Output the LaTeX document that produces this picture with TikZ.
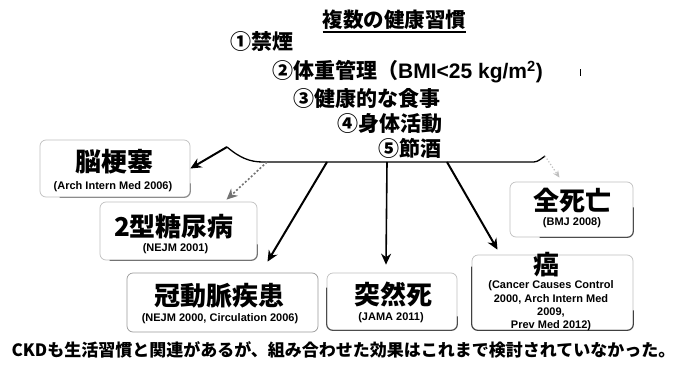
\documentclass[tikz,border=0pt]{standalone}
\usepackage{fontspec}
\setmainfont{Liberation Sans}
\newfontfamily\jp{Noto Sans CJK JP}
\usetikzlibrary{arrows.meta}
\begin{document}
\begin{tikzpicture}[x=1pt,y=-1pt,
  big/.style={font=\jp\bfseries\fontsize{26}{26}\selectfont, inner sep=0pt},
  item/.style={font=\jp\bfseries\fontsize{21}{21}\selectfont, inner sep=0pt, anchor=west},
  ref/.style={font=\bfseries\fontsize{11}{13.3}\selectfont, inner sep=0pt, align=center},
  fadebox/.style={draw=black!25, rounded corners=6pt, line width=0.7pt, inner sep=0pt},
  edge/.style={line width=1.1pt, rounded corners=6pt},
  arr/.style={-{Stealth[length=11pt,width=10pt]}, line width=2pt},
  bracket/.style={line width=1.3pt}
]
\useasboundingbox (0,0) rectangle (683,367);

% title and habits
\node[font=\jp\bfseries\fontsize{20.5}{20.5}\selectfont, inner sep=0pt] (title) at (394.5,20) {複数の健康習慣};
\draw[line width=1.2pt] ([yshift=-2pt]title.south west) -- ([yshift=-2pt]title.south east);
\node[item] (h1) at (230,42) {①禁煙};
\node[item] (h2) at (272,72) {②体重管理（{\rmfamily BMI<25 kg/m\textsuperscript{2})}};
\node[item] (h3) at (293,99) {③健康的な食事};
\node[item] (h4) at (337,124) {④身体活動};
\node[item] (h5) at (378,148) {⑤節酒};
\coordinate (tick1) at (580,69);
\coordinate (tick2) at (580,76);
\draw[line width=0.9pt] (tick1) -- (tick2);

% boxes
\node[fadebox, minimum width=150pt, minimum height=57pt] (bnou) at (115,168.5) {};
\node[fadebox, minimum width=157pt, minimum height=58pt] (bdm) at (178.5,231) {};
\node[fadebox, draw=black!40, minimum width=191pt, minimum height=59pt] (bkd) at (222.5,302.5) {};
\node[fadebox, minimum width=130pt, minimum height=57pt] (btz) at (392,301.5) {};
\node[fadebox, minimum width=161pt, minimum height=75pt] (bgan) at (552.5,292.5) {};
\node[fadebox, minimum width=123pt, minimum height=55pt] (bzs) at (571.5,209.5) {};

% darker visible edges
\draw[edge, draw=black!45] ([xshift=20pt]bnou.south west) -- (bnou.south east) -- ([yshift=14pt]bnou.south east);
\draw[edge, draw=black!55] ([xshift=10pt]bdm.south west) -- (bdm.south east) -- ([yshift=16pt]bdm.south east);
\draw[edge, draw=black!70] ([yshift=-15pt]btz.north west) -- (btz.south west) -- (btz.south east) -- ([yshift=14pt]btz.south east);
\draw[edge, draw=black!75] ([yshift=-12pt]bgan.north west) -- (bgan.south west) -- (bgan.south east) -- ([yshift=20pt]bgan.south east);
\draw[edge, draw=black!70] ([xshift=30pt]bzs.south west) -- (bzs.south east) -- ([yshift=30pt]bzs.south east);

% texts in boxes
\node[big] (tnou) at (114,162) {脳梗塞};
\node[ref] (rnou) at (113,187) {(Arch Intern Med 2006)};
\node[big] (tdm) at (174,227) {2型糖尿病};
\node[ref] (rdm) at (175.5,249) {(NEJM 2001)};
\node[big] (tkd) at (219,296) {冠動脈疾患};
\node[ref] (rkd) at (220,319) {(NEJM 2000, Circulation 2006)};
\node[big] (ttz) at (393,294) {突然死};
\node[ref] (rtz) at (391,318) {(JAMA 2011)};
\node[big] (tgan) at (546,265) {癌};
\node[ref] (rgan) at (551,306) {(Cancer Causes Control\\2000, Arch Intern Med\\2009,\\Prev Med 2012)};
\node[big] (tzs) at (572,201) {全死亡};
\node[ref] (rzs) at (572,223) {(BMJ 2008)};

% bracket and arrows
\coordinate (L) at (227,147);
\coordinate (Lb) at (263,162);
\coordinate (R) at (530,162);
\coordinate (Re) at (545,156);
\coordinate (s1) at (267,162);
\coordinate (s2) at (327,162);
\coordinate (s3) at (387,162);
\coordinate (s4) at (447,162);
\draw[bracket] (L) .. controls (240,158) and (250,162) .. (Lb) -- (R) .. controls (537,162) .. (Re);
\draw[arr] (L) -- (bnou.east);
\draw[arr, draw=black!55, dotted, line width=1.6pt] (s1) -- ([xshift=48pt,yshift=2pt]bdm.north);
\draw[arr] (s2) -- ([xshift=45pt,yshift=11pt]bkd.north);
\draw[arr, line width=1.6pt] (s3) -- ([xshift=-6pt,yshift=8pt]btz.north);
\draw[arr] (s4) -- ([xshift=-55pt,yshift=5pt]bgan.north);
\draw[-{Stealth[length=7pt,width=6pt]}, draw=black!25, dotted, line width=1.2pt] (Re) -- ([xshift=-12pt,yshift=4pt]bzs.north);

% bottom line
\node[font=\jp\bfseries\fontsize{17}{17}\selectfont, inner sep=0pt] (note) at (343.5,350) {CKDも生活習慣と関連があるが、組み合わせた効果はこれまで検討されていなかった。};
\end{tikzpicture}
\end{document}
